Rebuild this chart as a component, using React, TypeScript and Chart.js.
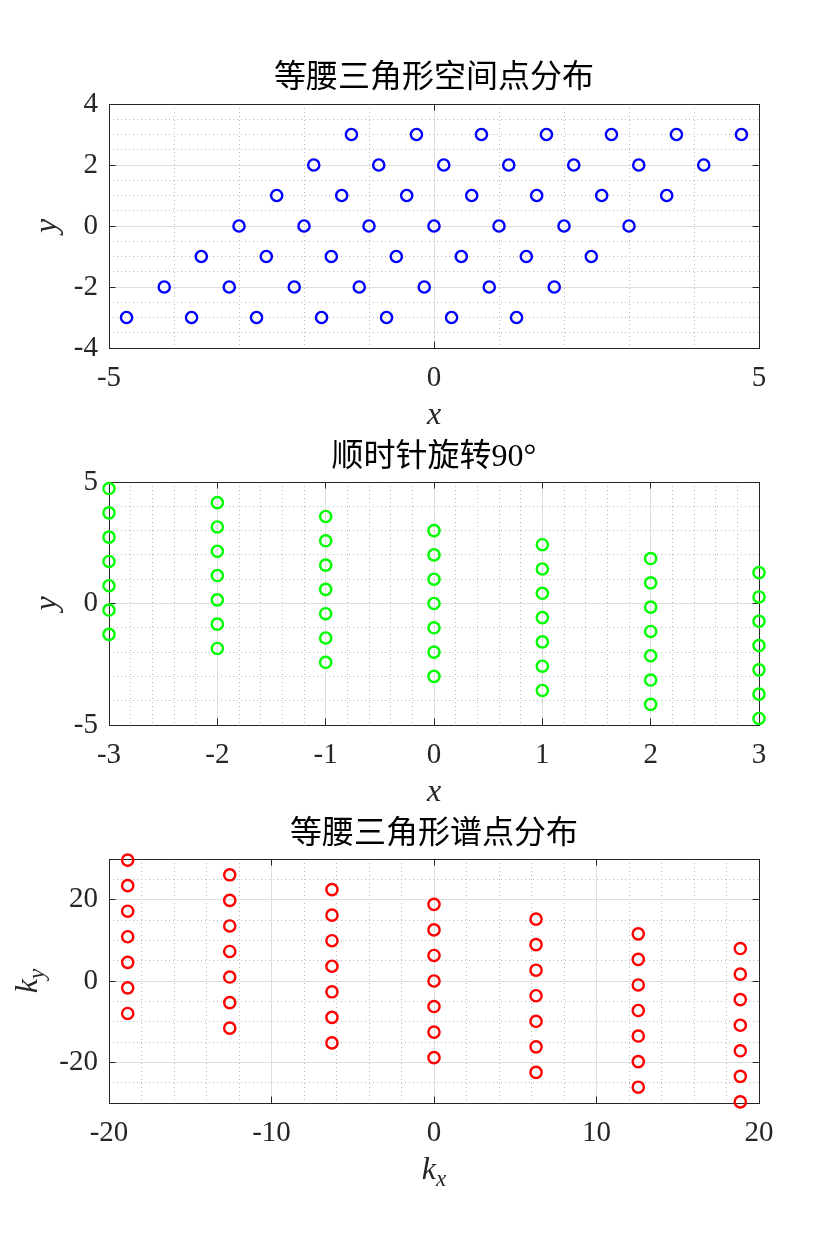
import React, { useEffect, useRef } from 'react';
import { Chart, registerables } from 'chart.js';

Chart.register(...registerables);

// ---------------- data ----------------
// Plot 1: isosceles-triangle lattice in space (rows of constant y)
const spaceRowY = [-3, -2, -1, 0, 1, 2, 3];
const spaceRowX = [
  [-4.73, -3.73, -2.73, -1.73, -0.73, 0.27, 1.27],
  [-4.15, -3.15, -2.15, -1.15, -0.15, 0.85, 1.85],
  [-3.58, -2.58, -1.58, -0.58, 0.42, 1.42, 2.42],
  [-3, -2, -1, 0, 1, 2, 3],
  [-2.42, -1.42, -0.42, 0.58, 1.58, 2.58, 3.58],
  [-1.85, -0.85, 0.15, 1.15, 2.15, 3.15, 4.15],
  [-1.27, -0.27, 0.73, 1.73, 2.73, 3.73, 4.73],
];

// Plot 2: rotated clockwise by 90 degrees (columns of constant x)
const rotColX = [-3, -2, -1, 0, 1, 2, 3];
const rotColY = [
  [4.73, 3.73, 2.73, 1.73, 0.73, -0.27, -1.27],
  [4.15, 3.15, 2.15, 1.15, 0.15, -0.85, -1.85],
  [3.58, 2.58, 1.58, 0.58, -0.42, -1.42, -2.42],
  [3, 2, 1, 0, -1, -2, -3],
  [2.42, 1.42, 0.42, -0.58, -1.58, -2.58, -3.58],
  [1.85, 0.85, -0.15, -1.15, -2.15, -3.15, -4.15],
  [1.27, 0.27, -0.73, -1.73, -2.73, -3.73, -4.73],
];

// Plot 3: spectral points (columns of constant kx)
const specColKx = [-18.85, -12.57, -6.28, 0, 6.28, 12.57, 18.85];
const specColKy = [
  [29.73, 23.45, 17.16, 10.88, 4.59, -1.69, -7.98],
  [26.11, 19.82, 13.54, 7.26, 0.97, -5.31, -11.59],
  [22.48, 16.19, 9.91, 3.63, -2.66, -8.94, -15.22],
  [18.85, 12.57, 6.28, 0, -6.28, -12.57, -18.85],
  [15.22, 8.94, 2.66, -3.63, -9.91, -16.19, -22.48],
  [11.59, 5.31, -0.97, -7.26, -13.54, -19.82, -26.11],
  [7.98, 1.69, -4.59, -10.88, -17.16, -23.45, -29.73],
];

// tick labels
const spaceXTicks = [-5, 0, 5];
const spaceYTicks = [-4, -2, 0, 2, 4];
const rotXTicks = [-3, -2, -1, 0, 1, 2, 3];
const rotYTicks = [-5, 0, 5];
const specXTicks = [-20, -10, 0, 10, 20];
const specYTicks = [-20, 0, 20];

const titles = ['等腰三角形空间点分布', '顺时针旋转90°', '等腰三角形谱点分布'];

// ---------------- styling / layout ----------------
const W = 840;
const AREA_LEFT = 109;
const AREA_RIGHT = 759;
const SERIF = '"Liberation Serif", "Times New Roman", serif';
const TITLE_FONT = '"Liberation Serif", "Noto Sans CJK SC", serif';
const AXIS = '#262626';
const MAJOR_GRID = '#dedede';
const MINOR_GRID = '#b8b8b8';
const CLEAR = 'rgba(0,0,0,0)';

type Pt = { x: number; y: number };

type PlotSpec = {
  points: Pt[];
  color: string;
  xRange: [number, number];
  yRange: [number, number];
  xTicks: number[];
  yTicks: number[];
  xMinor: number;
  yMinor: number;
  title: string;
  top: number;
  height: number;
  areaTop: number;
  areaBottom: number;
  titleY: number;
  xLabel: [string, string];
  yLabel: [string, string];
  yLabelX: number;
};

const rowsToPoints = (ys: number[], xs: number[][]): Pt[] =>
  ys.flatMap((y, i) => xs[i].map((x) => ({ x, y })));
const colsToPoints = (xs: number[], ys: number[][]): Pt[] =>
  xs.flatMap((x, i) => ys[i].map((y) => ({ x, y })));

const stepValues = (min: number, max: number, step: number) => {
  const out: number[] = [];
  const n = Math.round((max - min) / step);
  for (let i = 0; i <= n; i++) out.push(+(min + i * step).toFixed(6));
  return out;
};
const onList = (v: number, list: number[]) => list.some((t) => Math.abs(t - v) < 1e-6);

function drawLabel(ctx: CanvasRenderingContext2D, label: [string, string], cx: number, baseline: number) {
  const [base, sub] = label;
  const mainFont = `italic 32px ${SERIF}`;
  const subFont = `italic 23px ${SERIF}`;
  ctx.font = mainFont;
  const wb = ctx.measureText(base).width;
  let ws = 0;
  if (sub) {
    ctx.font = subFont;
    ws = ctx.measureText(sub).width;
  }
  const x0 = cx - (wb + ws) / 2;
  ctx.textAlign = 'left';
  ctx.textBaseline = 'alphabetic';
  ctx.font = mainFont;
  ctx.fillText(base, x0, baseline);
  if (sub) {
    ctx.font = subFont;
    ctx.fillText(sub, x0 + wb, baseline + 7);
  }
}

function buildConfig(spec: PlotSpec): any {
  const [xMin, xMax] = spec.xRange;
  const [yMin, yMax] = spec.yRange;
  const xMinorVals = stepValues(xMin, xMax, spec.xMinor);
  const yMinorVals = stepValues(yMin, yMax, spec.yMinor);
  const titleLine = 32 * 1.2;
  const padTop = spec.titleY - titleLine / 2;
  const titleBottomPad = spec.areaTop - padTop - titleLine;

  const setTicks = (vals: number[]) => (s: any) => {
    s.ticks = vals.map((v) => ({ value: v }));
  };
  const tickFont = { family: SERIF, size: 29 };

  const majorGridColor = (min: number, max: number) => (c: any) => {
    const v = c.tick ? c.tick.value : NaN;
    if (Math.abs(v - min) < 1e-6 || Math.abs(v - max) < 1e-6) return CLEAR;
    return MAJOR_GRID;
  };
  const minorGridColor = (majors: number[], min: number, max: number) => (c: any) => {
    const v = c.tick ? c.tick.value : NaN;
    if (onList(v, majors) || Math.abs(v - min) < 1e-6 || Math.abs(v - max) < 1e-6) return CLEAR;
    return MINOR_GRID;
  };

  const labelPlugin = {
    id: 'axisLabels',
    afterDraw(chart: any) {
      const { ctx, chartArea } = chart;
      ctx.save();
      ctx.fillStyle = AXIS;
      drawLabel(ctx, spec.xLabel, (chartArea.left + chartArea.right) / 2, chartArea.bottom + 76);
      ctx.translate(spec.yLabelX, (chartArea.top + chartArea.bottom) / 2);
      ctx.rotate(-Math.PI / 2);
      drawLabel(ctx, spec.yLabel, 0, 0);
      ctx.restore();
    },
  };

  return {
    type: 'scatter',
    data: {
      datasets: [
        {
          data: spec.points,
          showLine: false,
          borderColor: spec.color,
          backgroundColor: CLEAR,
          pointStyle: 'circle',
          pointRadius: 5.6,
          pointHoverRadius: 5.6,
          pointBorderWidth: 2.4,
          pointBorderColor: spec.color,
          pointBackgroundColor: CLEAR,
          clip: false,
        },
      ],
    },
    options: {
      responsive: false,
      animation: false,
      events: [],
      devicePixelRatio: 1,
      layout: { padding: { left: 0, right: W - AREA_RIGHT, top: padTop, bottom: 0 } },
      plugins: {
        legend: { display: false },
        tooltip: { enabled: false },
        title: {
          display: true,
          text: spec.title,
          fullSize: false,
          color: '#000000',
          font: { family: TITLE_FONT, size: 32, weight: 'normal', lineHeight: 1.2 },
          padding: { top: 0, bottom: titleBottomPad },
        },
      },
      scales: {
        xm: {
          type: 'linear',
          position: 'bottom',
          min: xMin,
          max: xMax,
          afterBuildTicks: setTicks(xMinorVals),
          afterFit: (s: any) => { s.height = 0; },
          ticks: { display: false },
          grid: { color: minorGridColor(spec.xTicks, xMin, xMax), lineWidth: 1, drawTicks: false },
          border: { display: false, dash: [1, 3] },
        },
        ym: {
          type: 'linear',
          position: 'left',
          min: yMin,
          max: yMax,
          afterBuildTicks: setTicks(yMinorVals),
          afterFit: (s: any) => { s.width = 0; },
          ticks: { display: false },
          grid: { color: minorGridColor(spec.yTicks, yMin, yMax), lineWidth: 1, drawTicks: false },
          border: { display: false, dash: [1, 3] },
        },
        x: {
          type: 'linear',
          position: 'bottom',
          min: xMin,
          max: xMax,
          afterBuildTicks: setTicks(spec.xTicks),
          afterFit: (s: any) => { s.height = spec.height - spec.areaBottom; },
          ticks: {
            color: AXIS,
            font: tickFont,
            padding: 19.5,
            maxRotation: 0,
            autoSkip: false,
            callback: (v: any) => String(v),
          },
          grid: {
            color: majorGridColor(xMin, xMax),
            lineWidth: 1,
            drawTicks: true,
            tickLength: -6.5,
            tickColor: AXIS,
            tickWidth: 1,
          },
          border: { display: true, color: AXIS, width: 1 },
        },
        y: {
          type: 'linear',
          position: 'left',
          min: yMin,
          max: yMax,
          afterBuildTicks: setTicks(spec.yTicks),
          afterFit: (s: any) => { s.width = AREA_LEFT; },
          ticks: {
            color: AXIS,
            font: tickFont,
            padding: 17.5,
            autoSkip: false,
            callback: (v: any) => String(v),
          },
          grid: {
            color: majorGridColor(yMin, yMax),
            lineWidth: 1,
            drawTicks: true,
            tickLength: -6.5,
            tickColor: AXIS,
            tickWidth: 1,
          },
          border: { display: true, color: AXIS, width: 1 },
        },
        x2: {
          type: 'linear',
          position: 'top',
          min: xMin,
          max: xMax,
          afterBuildTicks: setTicks(spec.xTicks),
          afterFit: (s: any) => { s.height = 0; },
          ticks: { display: false },
          grid: { drawOnChartArea: false, drawTicks: true, tickLength: -6.5, tickColor: AXIS, tickWidth: 1 },
          border: { display: true, color: AXIS, width: 1 },
        },
        y2: {
          type: 'linear',
          position: 'right',
          min: yMin,
          max: yMax,
          afterBuildTicks: setTicks(spec.yTicks),
          afterFit: (s: any) => { s.width = 0; },
          ticks: { display: false },
          grid: { drawOnChartArea: false, drawTicks: true, tickLength: -6.5, tickColor: AXIS, tickWidth: 1 },
          border: { display: true, color: AXIS, width: 1 },
        },
      },
    },
    plugins: [labelPlugin],
  };
}

const specs: PlotSpec[] = [
  {
    points: rowsToPoints(spaceRowY, spaceRowX),
    color: '#0000ff',
    xRange: [-5, 5],
    yRange: [-4, 4],
    xTicks: spaceXTicks,
    yTicks: spaceYTicks,
    xMinor: 1,
    yMinor: 0.5,
    title: titles[0],
    top: 0,
    height: 430,
    areaTop: 104,
    areaBottom: 348,
    titleY: 79,
    xLabel: ['x', ''],
    yLabel: ['y', ''],
    yLabelX: 56,
  },
  {
    points: colsToPoints(rotColX, rotColY),
    color: '#00ff00',
    xRange: [-3, 3],
    yRange: [-5, 5],
    xTicks: rotXTicks,
    yTicks: rotYTicks,
    xMinor: 0.2,
    yMinor: 1,
    title: titles[1],
    top: 430,
    height: 380,
    areaTop: 52,
    areaBottom: 295,
    titleY: 28,
    xLabel: ['x', ''],
    yLabel: ['y', ''],
    yLabelX: 56,
  },
  {
    points: colsToPoints(specColKx, specColKy),
    color: '#ff0000',
    xRange: [-20, 20],
    yRange: [-30, 30],
    xTicks: specXTicks,
    yTicks: specYTicks,
    xMinor: 2,
    yMinor: 5,
    title: titles[2],
    top: 810,
    height: 450,
    areaTop: 49,
    areaBottom: 293,
    titleY: 25,
    xLabel: ['k', 'x'],
    yLabel: ['k', 'y'],
    yLabelX: 37,
  },
];

function PlotCanvas({ spec }: { spec: PlotSpec }) {
  const ref = useRef<HTMLCanvasElement>(null);
  useEffect(() => {
    if (!ref.current) return;
    const chart = new Chart(ref.current, buildConfig(spec));
    return () => chart.destroy();
  }, [spec]);
  return (
    <canvas
      ref={ref}
      width={W}
      height={spec.height}
      style={{ position: 'absolute', left: 0, top: spec.top, width: W, height: spec.height, display: 'block' }}
    />
  );
}

export default function App() {
  return (
    <div style={{ position: 'absolute', left: 0, top: 0, width: W, height: 1260, background: '#ffffff' }}>
      {specs.map((s, i) => (
        <PlotCanvas key={i} spec={s} />
      ))}
    </div>
  );
}
